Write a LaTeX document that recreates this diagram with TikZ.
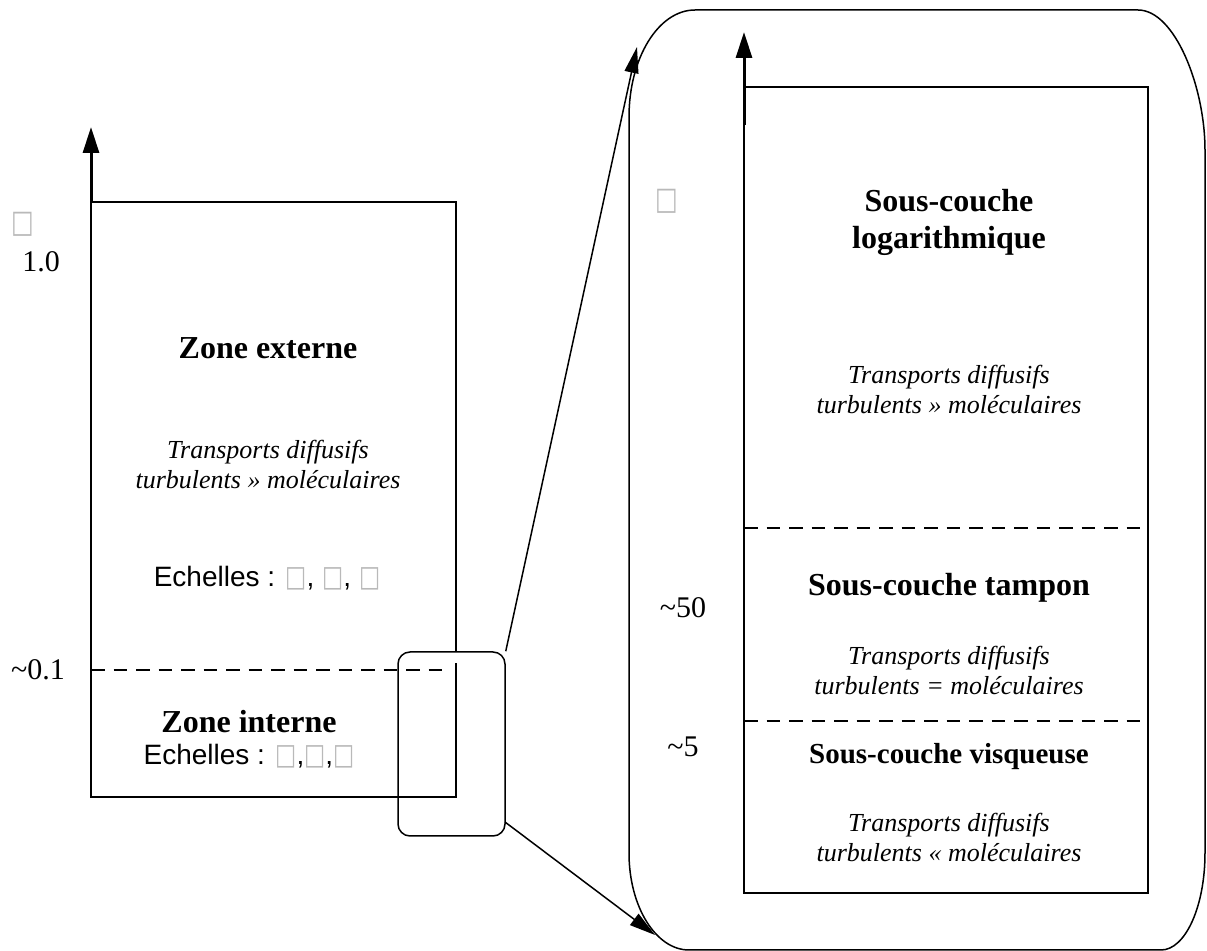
\documentclass[tikz,border=0pt]{standalone}
\usepackage{graphicx}
\usepackage{fontspec}
\setmainfont{Liberation Serif}
\setsansfont{Liberation Sans}
\newfontfamily\symfont{DejaVu Sans}
\usetikzlibrary{arrows.meta}
\newcommand\tofu{{\symfont\color{gray!55}\scalebox{0.8}[1.05]{□}}}
\begin{document}
\begin{tikzpicture}[x=0.5pt,y=-0.5pt,
  thin/.style={line width=0.75pt},
  axisarrow/.style={line width=1.5pt,-{Triangle[length=13pt,width=8pt]}},
  conn/.style={line width=0.75pt,-{Triangle[length=13pt,width=7pt]}},
  dashsep/.style={line width=0.75pt,dash pattern=on 6.75pt off 4.5pt},
  btitle/.style={font=\fontsize{16}{18.5}\selectfont\bfseries,align=center,inner sep=0pt},
  btitlesm/.style={font=\fontsize{14.5}{17}\selectfont\bfseries,align=center,inner sep=0pt},
  itxt/.style={font=\fontsize{13}{15}\selectfont\itshape,align=center,inner sep=0pt},
  stxt/.style={font=\fontsize{14}{16}\selectfont\sffamily,inner sep=0pt},
  num/.style={font=\fontsize{15}{17}\selectfont,inner sep=0pt},
  sym/.style={font=\fontsize{15}{17}\selectfont,inner sep=0pt}]
\useasboundingbox (0,0) rectangle (1207,951);

% left box
\draw[thin] (456,652) -- (456,202) -- (91,202) -- (91,797) -- (456,797) -- (456,663);
\draw[dashsep] (91,670) -- (450,670);
\coordinate (la0) at (91,202);
\coordinate (la1) at (91,127);
\draw[axisarrow] (la0) -- (la1);

% zoom window
\node[draw,thin,rounded corners=6pt,minimum width=53.5pt,minimum height=92pt,inner sep=0pt] (zoomwin) at (451.5,744) {};

% big frame
\draw[thin] (629,117) .. controls (629,57.9) and (658.5,10) .. (695,10)
  -- (1138,10) .. controls (1175,10) and (1205,87.3) .. (1205,150)
  -- (1205,853) .. controls (1205,906.6) and (1185.3,950) .. (1161,950)
  -- (689,950) .. controls (655.9,950) and (629,906.6) .. (629,853) -- cycle;

% inner box
\draw[thin] (744,87) rectangle (1148,893);
\draw[dashsep] (744,528) -- (1148,528);
\draw[dashsep] (744,721) -- (1148,721);
\coordinate (ra0) at (744,125);
\coordinate (ra1) at (744,32);
\draw[axisarrow] (ra0) -- (ra1);

% connectors
\coordinate (topend) at (637,47);
\coordinate (zs) at (505,822);
\coordinate (botend) at (655,935);
\draw[conn] (zoomwin.north east) -- (topend);
\draw[conn] (zs) -- (botend);

% left texts
\node[sym] (s1) at (23,224) {\tofu};
\node[num] (one) at (41,262) {1.0};
\node[num] (l01) at (38,670) {\textasciitilde0.1};
\node[btitle] (ze) at (268,348) {Zone externe};
\node[itxt] (zet) at (268,465) {Transports diffusifs\\turbulents » moléculaires};
\node[stxt] (zes) at (267,578) {Echelles : \tofu, \tofu, \tofu};
\node[btitle] (zi) at (249,722) {Zone interne};
\node[stxt] (zis) at (249,756) {Echelles : \tofu,\tofu,\tofu};

% right texts
\node[sym] (s2) at (667,201) {\tofu};
\node[btitle] (lg) at (949,222) {Sous-couche\\logarithmique};
\node[itxt] (lgt) at (949,390) {Transports diffusifs\\turbulents » moléculaires};
\node[btitle] (tp) at (949,588) {Sous-couche tampon};
\node[itxt] (tpt) at (949,671) {Transports diffusifs\\turbulents = moléculaires};
\node[num] (n50) at (683,608) {\textasciitilde50};
\node[num] (n5) at (683,747) {\textasciitilde5};
\node[btitlesm] (vq) at (949,757) {Sous-couche visqueuse};
\node[itxt] (vqt) at (949,838) {Transports diffusifs\\turbulents « moléculaires};
\end{tikzpicture}
\end{document}
